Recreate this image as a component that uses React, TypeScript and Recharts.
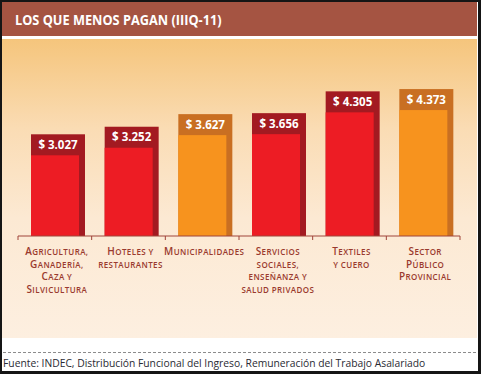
import React from 'react';
import { BarChart, Bar, XAxis, YAxis } from 'recharts';

// datos (IIIQ-11), en pesos
const categories = [
  'Agricultura, Ganadería, Caza y Silvicultura',
  'Hoteles y restaurantes',
  'Municipalidades',
  'Servicios sociales, enseñanza y salud privados',
  'Textiles y cuero',
  'Sector Público Provincial',
];
const labelLines = [
  ['Agricultura,', 'Ganadería,', 'Caza y', 'Silvicultura'],
  ['Hoteles y', 'restaurantes'],
  ['Municipalidades'],
  ['Servicios', 'sociales,', 'enseñanza y', 'salud privados'],
  ['Textiles', 'y cuero'],
  ['Sector', 'Público', 'Provincial'],
];
const salaries = [3027, 3252, 3627, 3656, 4305, 4373];

const data = categories.map((name, i) => ({ name, value: salaries[i], lines: labelLines[i] }));

const TONES: Record<string, { main: string; dark: string }> = {
  red: { main: '#ED1C24', dark: '#A31A21' },
  orange: { main: '#F7931E', dark: '#C96F22' },
};
const barTone = ['red', 'red', 'orange', 'red', 'red', 'orange'];

const CAP = 21;
const SHADE = 6;
const LABEL_COLOR = '#9A3A2E';

const fmt = (v: number) => '$ ' + String(v).replace(/\B(?=(\d{3})+(?!\d))/g, '.');

// small caps a mano: mayúsculas a 10px, minúsculas como versalitas a 8px
const smallCapRuns = (s: string) => {
  const runs: { t: string; big: boolean }[] = [];
  for (const ch of s) {
    const big = ch !== ch.toLowerCase();
    const last = runs[runs.length - 1];
    if (last && last.big === big) last.t += ch;
    else runs.push({ t: ch, big });
  }
  return runs.map((r) => ({ ...r, t: r.t.toUpperCase() }));
};

const SalaryBar = (props: any) => {
  const { x, y, width, height, index, value } = props;
  const tone = TONES[barTone[index]];
  return (
    <g>
      <rect x={x} y={y} width={width + SHADE} height={height} fill={tone.dark} />
      <rect x={x} y={y + CAP} width={width} height={Math.max(0, height - CAP)} fill={tone.main} />
      <text
        x={x + (width + SHADE) / 2}
        y={y + CAP / 2 + 4}
        textAnchor="middle"
        fill="#fff"
        fontFamily="'Open Sans', sans-serif"
        fontWeight={700}
        fontSize={11.5}
      >
        {fmt(value)}
      </text>
    </g>
  );
};

const CategoryTick = (props: any) => {
  const { x, y, payload, index } = props;
  const half = payload.offset ?? 0;
  const lines: string[] = data[index]?.lines ?? [String(payload.value)];
  return (
    <g>
      <line x1={x - half} x2={x - half} y1={y} y2={y + 4} stroke="#A0443A" />
      {index === data.length - 1 && (
        <line x1={x + half} x2={x + half} y1={y} y2={y + 4} stroke="#A0443A" />
      )}
      {lines.map((l, i) => (
        <text
          key={i}
          x={x + 2}
          y={y + 19 + i * 12.5}
          textAnchor="middle"
          fill={LABEL_COLOR}
          fontFamily="'Open Sans', sans-serif"
          fontWeight={600}
          letterSpacing={0.4}
        >
          {smallCapRuns(l).map((r, j) => (
            <tspan key={j} fontSize={r.big ? 10 : 8}>
              {r.t}
            </tspan>
          ))}
        </text>
      ))}
    </g>
  );
};

export default function App() {
  return (
    <div
      style={{
        position: 'fixed',
        left: 0,
        top: 0,
        width: 481,
        height: 374,
        background: '#151515',
        overflow: 'hidden',
      }}
    >
      <div style={{ position: 'absolute', left: 2, top: 2, width: 476, height: 369, background: '#fff' }} />
      <div
        style={{
          position: 'absolute',
          left: 2,
          top: 2,
          width: 475,
          height: 34,
          background: '#A55442',
        }}
      >
        <span
          style={{
            position: 'absolute',
            left: 13,
            top: 7,
            color: '#fff',
            fontFamily: "'Open Sans', sans-serif",
            fontWeight: 700,
            fontSize: 15,
            whiteSpace: 'nowrap',
            transform: 'scaleX(0.85)',
            transformOrigin: 'left center',
          }}
        >
          LOS QUE MENOS PAGAN (IIIQ-11)
        </span>
      </div>
      <div
        style={{
          position: 'absolute',
          left: 2,
          top: 39,
          width: 475,
          height: 299,
          background: 'linear-gradient(to bottom, #F5C57C 0%, #FADCB4 30%, #FCE9D3 60%, #FDEFE0 100%)',
        }}
      />
      <div
        style={{
          position: 'absolute',
          left: 3,
          top: 352,
          width: 474,
          height: 1,
          backgroundImage: 'repeating-linear-gradient(to right, #8c8c8c 0 3px, transparent 3px 5px)',
        }}
      />
      <div
        style={{
          position: 'absolute',
          left: 3,
          top: 356,
          color: '#2a2a33',
          fontFamily: "'Open Sans', sans-serif",
          fontSize: 10.3,
          whiteSpace: 'nowrap',
        }}
      >
        Fuente: INDEC, Distribución Funcional del Ingreso, Remuneración del Trabajo Asalariado
      </div>
      <div style={{ position: 'absolute', left: 0, top: 0 }}>
        <BarChart width={481} height={374} data={data} margin={{ top: 68, right: 21, left: 18, bottom: 38 }}>
          <XAxis
            dataKey="name"
            height={100}
            interval={0}
            tickSize={0}
            tickMargin={0}
            tickLine={false}
            axisLine={{ stroke: '#A0443A' }}
            tick={<CategoryTick />}
          />
          <YAxis hide domain={[0, 5000]} />
          <Bar dataKey="value" barSize={48} shape={<SalaryBar />} isAnimationActive={false} />
        </BarChart>
      </div>
    </div>
  );
}
